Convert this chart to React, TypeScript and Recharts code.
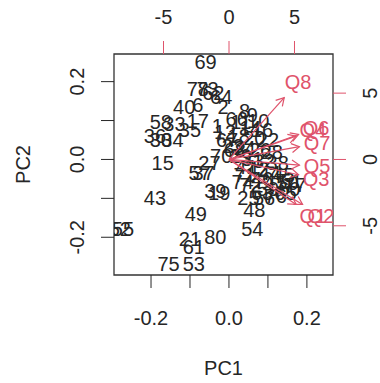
import { ScatterChart, Scatter, XAxis, YAxis, ReferenceArea, Label } from 'recharts';

const RED = '#DF536B';
const INK = '#262626';
const FONT = '"Liberation Sans", Arial, sans-serif';

// observation scores (PC1, PC2)
const obsId = ['69', '78', '73', '62', '64', '2', '40', '6', '17', '58', '33', '35', '36', '30', '34', '1', '12', '15', '27', '57', '37', '39', '19', '43', '49', '52', '55', '21', '80', '61', '75', '53', '54', '48', '25', '74',
    '8', '9', '10', '11', '14', '16', '18', '20', '22', '23', '24', '26', '28', '29', '31', '32', '38', '41', '42', '44', '45', '46', '47', '50', '51', '56', '59', '60', '63', '65', '66', '67', '68', '70', '71', '72', '76', '77'];
const pc1 = [-0.06, -0.08, -0.055, -0.04, -0.02, -0.015, -0.115, -0.08, -0.08, -0.175, -0.14, -0.1, -0.19, -0.175, -0.145, -0.03, -0.01, -0.17, -0.05, -0.075, -0.065, -0.035, -0.025, -0.19, -0.085, -0.28, -0.272, -0.1, -0.035, -0.09, -0.155, -0.09, 0.06, 0.065, 0.05, 0.035,
    0.04, 0.06, 0.075, 0.03, 0.055, 0.085, 0.025, 0.065, 0.1, 0.01, 0.04, 0.08, 0.11, 0.03, 0.06, 0.09, 0.125, 0.045, 0.075, 0.105, 0.14, 0.085, 0.12, 0.15, 0.16, 0.09, 0.1, 0.155, 0.085, 0.145, 0.02, -0.005, 0.015, -0.02, 0.04, 0.055, 0.12, 0.17];
const pc2 = [0.25, 0.18, 0.18, 0.17, 0.16, 0.135, 0.135, 0.14, 0.1, 0.095, 0.09, 0.075, 0.06, 0.05, 0.05, 0.085, 0.07, -0.01, -0.01, -0.035, -0.035, -0.08, -0.085, -0.1, -0.14, -0.18, -0.18, -0.205, -0.2, -0.225, -0.27, -0.27, -0.18, -0.13, -0.1, -0.057,
    0.125, 0.115, 0.1, 0.095, 0.08, 0.075, 0.06, 0.055, 0.05, 0.035, 0.03, 0.025, 0.02, 0.01, 0.0, -0.005, -0.01, -0.02, -0.025, -0.035, -0.04, -0.05, -0.055, -0.06, -0.055, -0.1, -0.075, -0.075, -0.085, -0.085, 0.105, 0.05, 0.025, 0.01, -0.04, -0.065, -0.095, -0.065];

// variable loadings (top / right axes)
const varName = ['Q1', 'Q2', 'Q3', 'Q4', 'Q5', 'Q6', 'Q7', 'Q8'];
const load1 = [6.41, 7.02, 6.64, 6.41, 6.72, 6.64, 6.72, 5.27];
const load2 = [-4.24, -4.24, -1.44, 2.2, -0.53, 2.35, 1.21, 5.83];
const arrowScale = 0.8;

const obsData = obsId.map((id, i) => ({ id, x: pc1[i], y: pc2[i] }));
const varData = varName.map((id, i) => ({ id, x: load1[i], y: load2[i] }));

const txt = { fontFamily: FONT, fontSize: 20 };

const ObsLabel = (p: any) => (
    <text x={p.cx} y={p.cy} textAnchor="middle" dominantBaseline="central" fill={INK} style={txt}>{p.payload.id}</text>
);
const VarLabel = (p: any) => (
    <text x={p.cx} y={p.cy} textAnchor="middle" dominantBaseline="central" fill={RED} style={txt}>{p.payload.id}</text>
);
const ArrowHead = (p: any) => {
    const { cx, cy, payload } = p;
    if (payload.x === 0 && payload.y === 0) return <g />;
    const a = Math.atan2(-payload.y, payload.x);
    const L = 9;
    const a1 = a + Math.PI - Math.PI / 6;
    const a2 = a + Math.PI + Math.PI / 6;
    const pts = `${cx + L * Math.cos(a1)},${cy + L * Math.sin(a1)} ${cx},${cy} ${cx + L * Math.cos(a2)},${cy + L * Math.sin(a2)}`;
    return <polyline points={pts} fill="none" stroke={RED} strokeWidth={1.2} />;
};

const BottomTick = ({ x, y, payload, index }: any) => index % 2 ? <g /> : (
    <text x={x} y={y + 30} textAnchor="middle" dominantBaseline="central" fill={INK} style={txt}>{payload.value.toFixed(1)}</text>
);
const LeftTick = ({ x, y, payload, index }: any) => index % 2 ? <g /> : (
    <text x={x - 24} y={y} textAnchor="middle" dominantBaseline="central" fill={INK} style={txt} transform={`rotate(-90 ${x - 24} ${y})`}>{payload.value.toFixed(1)}</text>
);
const TopTick = ({ x, y, payload }: any) => (
    <text x={x} y={y - 24} textAnchor="middle" dominantBaseline="central" fill={INK} style={txt}>{payload.value}</text>
);
const RightTick = ({ x, y, payload }: any) => (
    <text x={x + 24} y={y} textAnchor="middle" dominantBaseline="central" fill={INK} style={txt} transform={`rotate(-90 ${x + 24} ${y})`}>{payload.value}</text>
);

export default function App() {
    return (
        <div style={{ position: 'absolute', left: 0, top: 0 }}>
            <ScatterChart width={380} height={383} margin={{ top: 0, right: 0, bottom: 0, left: 0 }}>
                <XAxis xAxisId="b" dataKey="x" type="number" domain={[-0.295, 0.267]} allowDataOverflow ticks={[-0.2, -0.1, 0, 0.1, 0.2]}
                    height={108} tickSize={13} tickMargin={0} axisLine={false} tickLine={{ stroke: INK }} tick={<BottomTick />} interval={0}>
                    <Label content={(p: any) => (
                        <text x={p.viewBox.x + p.viewBox.width / 2} y={368} textAnchor="middle" dominantBaseline="central" fill={INK} style={txt}>PC1</text>
                    )} />
                </XAxis>
                <XAxis xAxisId="t" orientation="top" dataKey="x" type="number" domain={[-8.78, 7.94]} allowDataOverflow ticks={[-5, 0, 5]}
                    height={54} tickSize={13} tickMargin={0} axisLine={false} tickLine={{ stroke: RED }} tick={<TopTick />} interval={0} />
                <YAxis yAxisId="l" dataKey="y" type="number" domain={[-0.297, 0.271]} allowDataOverflow ticks={[-0.2, -0.1, 0, 0.1, 0.2]}
                    width={114} tickSize={13} tickMargin={0} axisLine={false} tickLine={{ stroke: INK }} tick={<LeftTick />} interval={0}>
                    <Label content={(p: any) => {
                        const cy = p.viewBox.y + p.viewBox.height / 2;
                        return <text x={23} y={cy} textAnchor="middle" dominantBaseline="central" fill={INK} style={txt} transform={`rotate(-90 23 ${cy})`}>PC2</text>;
                    }} />
                </YAxis>
                <YAxis yAxisId="r" orientation="right" dataKey="y" type="number" domain={[-8.71, 7.95]} allowDataOverflow ticks={[-5, 0, 5]}
                    width={47} tickSize={13} tickMargin={0} axisLine={false} tickLine={{ stroke: RED }} tick={<RightTick />} interval={0} />
                <ReferenceArea xAxisId="b" yAxisId="l" x1={-0.295} x2={0.267} y1={-0.297} y2={0.271} fill="none" stroke="#333" strokeWidth={1.3} fillOpacity={0} />
                <Scatter xAxisId="b" yAxisId="l" data={obsData} shape={<ObsLabel />} isAnimationActive={false} />
                {varData.map((v) => (
                    <Scatter key={v.id} xAxisId="t" yAxisId="r" data={[{ x: 0, y: 0 }, { x: v.x * arrowScale, y: v.y * arrowScale }]}
                        line={{ stroke: RED, strokeWidth: 1.2 }} shape={<ArrowHead />} isAnimationActive={false} />
                ))}
                <Scatter xAxisId="t" yAxisId="r" data={varData} shape={<VarLabel />} isAnimationActive={false} />
            </ScatterChart>
        </div>
    );
}
